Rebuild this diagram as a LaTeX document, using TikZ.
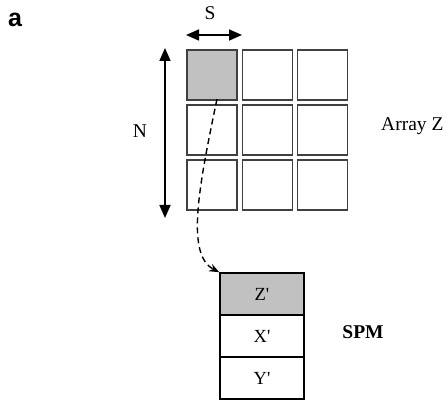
\documentclass[tikz,border=0pt]{standalone}
\usepackage{fontspec}
\setmainfont{Liberation Serif}
\newfontfamily\sansf{Liberation Sans}
\usetikzlibrary{arrows.meta}
\tikzset{
  cell/.style={draw=black!75, line width=1.3pt, minimum width=50pt, minimum height=50pt, inner sep=0pt},
  spmbox/.style={draw=black, line width=1.6pt, minimum width=84pt, minimum height=42pt, inner sep=0pt, font=\fontsize{18.5}{20}\selectfont},
  lbl/.style={font=\fontsize{19.5}{24}\selectfont, inner sep=0pt},
  dim/.style={line width=1.6pt, {Triangle[length=13pt,width=11pt]}-{Triangle[length=13pt,width=11pt]}},
}
\definecolor{cellgray}{RGB}{192,193,192}
\begin{document}
\begin{tikzpicture}[x=1pt,y=-1pt]
\useasboundingbox (0,0) rectangle (448,401);
% grid
\node[cell, fill=cellgray] (c11) at (212,75) {};
\node[cell] (c12) at (267.5,75) {};
\node[cell] (c13) at (322.5,75) {};
\node[cell] (c21) at (212,130) {};
\node[cell] (c22) at (267.5,130) {};
\node[cell] (c23) at (322.5,130) {};
\node[cell] (c31) at (212,185) {};
\node[cell] (c32) at (267.5,185) {};
\node[cell] (c33) at (322.5,185) {};
% SPM
\node[spmbox, fill=cellgray] (z) at (262,294) {Z\textquotesingle};
\node[spmbox] (x) at (262,336) {X\textquotesingle};
\node[spmbox] (y) at (262,378) {Y\textquotesingle};
% labels
\node[font=\sansf\bfseries\fontsize{25}{28}\selectfont, inner sep=0pt, anchor=base] (a) at (15,27) {a};
\node[lbl, anchor=base] (S) at (210,20) {S};
\node[lbl, anchor=base] (N) at (140,138) {N};
\node[lbl, anchor=base west] (arr) at (381,131) {Array Z};
\node[lbl, font=\bfseries\fontsize{19.5}{24}\selectfont, anchor=base] (spm) at (363,338.5) {SPM};
% dimension arrows
\coordinate (sl) at (186,35);
\coordinate (sr) at (242,35);
\draw[dim] (sl) -- (sr);
\coordinate (nt) at (165,48);
\coordinate (nb) at (165,218);
\draw[dim] (nt) -- (nb);
% dashed curve
\coordinate (ds) at (217,99);
\draw[line width=1.4pt, dash pattern=on 6pt off 4pt, -{Stealth[length=10pt,width=8pt]}]
  (ds) .. controls (198,190) and (186,255) .. (z.north west);
\end{tikzpicture}
\end{document}
